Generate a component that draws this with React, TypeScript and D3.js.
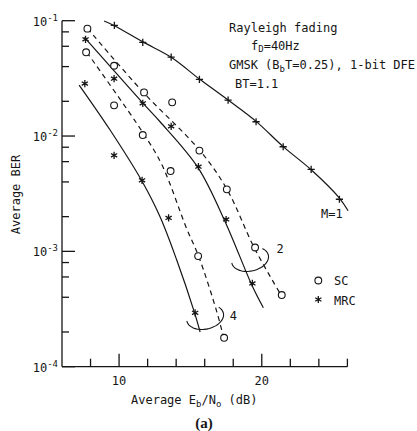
import React from 'react';
import * as d3 from 'd3';

// ---- data ----
// M=1 (SC and MRC coincide), plus markers
const m1Db = [9.67, 11.66, 13.65, 15.63, 17.64, 19.6, 21.5, 23.46, 25.44];
const m1Ber = [0.091, 0.065, 0.0484, 0.031, 0.0205, 0.0133, 0.00807, 0.00514, 0.00283];
const m1CurveDb = [8.95, 9.67, 11.66, 13.65, 15.63, 17.64, 19.6, 21.5, 23.46, 25.44, 26.05];
const m1CurveBer = [0.0994, 0.0905, 0.0655, 0.0482, 0.0312, 0.0205, 0.0134, 0.0081, 0.0051, 0.0029, 0.00225];

// SC (circles, dashed curves)
const sc2Db = [7.78, 9.65, 11.75, 13.72, 15.63, 17.55, 19.53, 21.4];
const sc2Ber = [0.0853, 0.0407, 0.0239, 0.0196, 0.00748, 0.00345, 0.00108, 0.000418];
const sc2CurveDb = [7.78, 11.7, 15.63, 17.55, 19.48, 21.35];
const sc2CurveBer = [0.0859, 0.0239, 0.00757, 0.00347, 0.00107, 0.000418];

const sc4Db = [7.69, 9.65, 11.66, 13.61, 15.54, 17.36];
const sc4Ber = [0.0532, 0.01846, 0.0102, 0.00497, 0.00091, 0.000178];
const sc4CurveDb = [7.74, 11.7, 13.01, 14.73, 15.57, 16.85, 17.31];
const sc4CurveBer = [0.0532, 0.01055, 0.0056, 0.00158, 0.00091, 0.000299, 0.000182];

// MRC (stars, solid curves)
const mrc2Db = [7.65, 9.65, 11.66, 13.65, 15.56, 17.5, 19.34];
const mrc2Ber = [0.069, 0.0314, 0.0192, 0.01213, 0.00542, 0.00189, 0.000527];
const mrc2CurveDb = [7.57, 11.7, 12.87, 15.52, 17.43, 19.3, 20.11];
const mrc2CurveBer = [0.0718, 0.0191, 0.0133, 0.00535, 0.00181, 0.000512, 0.000325];

const mrc4Db = [7.6, 9.65, 11.61, 13.47, 15.33];
const mrc4Ber = [0.0285, 0.0068, 0.00413, 0.00195, 0.000293];
const mrc4CurveDb = [7.2, 9.37, 11.59, 12.87, 14.04, 15.28, 15.68];
const mrc4CurveBer = [0.02766, 0.01127, 0.00409, 0.001995, 0.000841, 0.000296, 0.0002];

// axis ticks
const xTicks = [8, 10, 12, 14, 16, 18, 20, 22, 24, 26];
const xMajor = [10, 20];
const yDecades = [1e-1, 1e-2, 1e-3, 1e-4];
const yDecadeExp = ['-1', '-2', '-3', '-4'];
const yMinorMult = [2, 4, 6, 8];

// diversity-order brackets (centre in data units)
const bracketLabels = ['2', '4'];
const bracketDb = [19.18, 16.03];
const bracketBer = [0.000857, 0.000269];

const W = 417;
const H = 431;
const FONT = '"DejaVu Sans Mono", "Liberation Mono", monospace';
const INK = '#151515';

const zip = (xs: number[], ys: number[]) => xs.map((x, i) => [x, ys[i]] as [number, number]);

export default function App() {
  const x = d3.scaleLinear().domain([6, 26]).range([62, 347.4]);
  const y = d3.scaleLog().domain([1e-4, 1e-1]).range([366.7, 20.7]);

  const line = d3
    .line<[number, number]>()
    .x((d) => x(d[0]))
    .y((d) => y(d[1]))
    .curve(d3.curveCatmullRom.alpha(0.5));

  const yMinor: number[] = [];
  yDecades.slice(1).forEach((dec) => yMinorMult.forEach((m) => yMinor.push(dec * m)));

  const star = (cx: number, cy: number, r = 3.6) => {
    let p = '';
    [90, 30, 150].forEach((a) => {
      const dx = r * Math.cos((a * Math.PI) / 180);
      const dy = r * Math.sin((a * Math.PI) / 180);
      p += `M${cx - dx},${cy - dy}L${cx + dx},${cy + dy}`;
    });
    return p;
  };
  const plus = (cx: number, cy: number, r = 3.6) =>
    `M${cx - r},${cy}L${cx + r},${cy}M${cx},${cy - r}L${cx},${cy + r}`;

  // elliptical bracket arc around a pair of curves
  const bracket = (cx: number, cy: number, t0: number) => {
    const rx = 18.7;
    const ry = 12;
    const phi = (-12 * Math.PI) / 180;
    const pts: [number, number][] = d3.range(t0, 181, 5).map((deg) => {
      const t = (deg * Math.PI) / 180;
      const dx = rx * Math.cos(t);
      const dy = ry * Math.sin(t);
      return [cx + dx * Math.cos(phi) - dy * Math.sin(phi), cy + dx * Math.sin(phi) + dy * Math.cos(phi)];
    });
    return d3.line().curve(d3.curveBasis)(pts) || '';
  };

  const curves = [
    { pts: zip(m1CurveDb, m1CurveBer), dash: undefined },
    { pts: zip(mrc2CurveDb, mrc2CurveBer), dash: undefined },
    { pts: zip(mrc4CurveDb, mrc4CurveBer), dash: undefined },
    { pts: zip(sc2CurveDb, sc2CurveBer), dash: '5,4' },
    { pts: zip(sc4CurveDb, sc4CurveBer), dash: '5,4' },
  ];

  const circles = [...zip(sc2Db, sc2Ber), ...zip(sc4Db, sc4Ber)];
  const stars = [...zip(mrc2Db, mrc2Ber), ...zip(mrc4Db, mrc4Ber)];
  const pluses = zip(m1Db, m1Ber);

  const x0 = x.range()[0];
  const yBase = y.range()[0];

  return (
    <svg
      width={W}
      height={H}
      viewBox={`0 0 ${W} ${H}`}
      style={{ position: 'absolute', left: 0, top: 0, background: '#fff' }}
      fontFamily={FONT}
      fill={INK}
    >
      {/* axes */}
      <g stroke={INK} strokeWidth={1.3} fill="none">
        <line x1={x0} y1={y(1e-1)} x2={x0} y2={yBase} />
        <line x1={x0} y1={yBase} x2={x.range()[1]} y2={yBase} />
        {xTicks.map((t) => (
          <line key={'xt' + t} x1={x(t)} x2={x(t)} y1={yBase} y2={yBase - (xMajor.includes(t) ? 13 : 8)} />
        ))}
        {yDecades.map((t) => (
          <line key={'yd' + t} x1={x0} x2={x0 + 13} y1={y(t)} y2={y(t)} />
        ))}
        {yMinor.map((t) => (
          <line key={'ym' + t} x1={x0} x2={x0 + 7} y1={y(t)} y2={y(t)} />
        ))}
      </g>

      {/* tick labels */}
      <g fontSize={12}>
        {xMajor.map((t) => (
          <text key={'xl' + t} x={x(t)} y={yBase + 18} textAnchor="middle">
            {t}
          </text>
        ))}
        {yDecades.map((t, i) => (
          <text key={'yl' + t} x={58} y={y(t) + 5} textAnchor="end">
            10
            <tspan fontSize={9} dy={-5}>
              {yDecadeExp[i]}
            </tspan>
          </text>
        ))}
      </g>

      {/* axis titles */}
      <text x={131} y={404} fontSize={12}>
        Average E<tspan fontSize={9} dy={3}>b</tspan>
        <tspan dy={-3}>/N</tspan>
        <tspan fontSize={9} dy={3}>o</tspan>
        <tspan dy={-3}> (dB)</tspan>
      </text>
      <text transform="translate(20,194.5) rotate(-90)" fontSize={12} textAnchor="middle">
        Average BER
      </text>

      {/* curves */}
      <g fill="none" stroke={INK} strokeWidth={1.2}>
        {curves.map((c, i) => (
          <path key={'c' + i} d={line(c.pts) || ''} strokeDasharray={c.dash} />
        ))}
      </g>

      {/* markers */}
      <g fill="#fff" stroke={INK} strokeWidth={1.1}>
        {circles.map((d, i) => (
          <circle key={'o' + i} cx={x(d[0])} cy={y(d[1])} r={3.4} />
        ))}
      </g>
      <g fill="none" stroke={INK} strokeWidth={1.3}>
        {stars.map((d, i) => (
          <path key={'s' + i} d={star(x(d[0]), y(d[1]))} />
        ))}
        {pluses.map((d, i) => (
          <path key={'p' + i} d={plus(x(d[0]), y(d[1]))} />
        ))}
      </g>

      {/* brackets */}
      <g fill="none" stroke={INK} strokeWidth={1.1}>
        {bracketLabels.map((l, i) => (
          <path key={'b' + l} d={bracket(x(bracketDb[i]), y(bracketBer[i]), i === 0 ? -40 : -35)} />
        ))}
      </g>
      <g fontSize={12}>
        <text x={x(bracketDb[0]) + 26.5} y={y(bracketBer[0]) - 6}>
          {bracketLabels[0]}
        </text>
        <text x={x(bracketDb[1]) + 24.5} y={y(bracketBer[1]) + 3}>
          {bracketLabels[1]}
        </text>
        <text x={321} y={217.5}>M=1</text>
      </g>

      {/* annotation block */}
      <g fontSize={12}>
        <text x={229} y={31.5}>Rayleigh fading</text>
        <text x={251} y={49.5}>
          f<tspan fontSize={9} dy={2.5}>D</tspan>
          <tspan dy={-2.5}>=40Hz</tspan>
        </text>
        <text x={229} y={69}>
          GMSK (B<tspan fontSize={9} dy={2.5}>b</tspan>
          <tspan dy={-2.5}>T=0.25), 1-bit DFE</tspan>
        </text>
        <text x={235} y={87.5}>BT=1.1</text>
      </g>

      {/* legend */}
      <circle cx={318.3} cy={280.5} r={3.4} fill="#fff" stroke={INK} strokeWidth={1.1} />
      <path d={star(318.3, 299.5)} stroke={INK} strokeWidth={1.3} fill="none" />
      <g fontSize={12}>
        <text x={334} y={285}>SC</text>
        <text x={334} y={304.5}>MRC</text>
      </g>

      <text x={204} y={428} fontSize={15} fontWeight="bold" fontFamily='"Liberation Serif", serif' textAnchor="middle">
        (a)
      </text>
    </svg>
  );
}
